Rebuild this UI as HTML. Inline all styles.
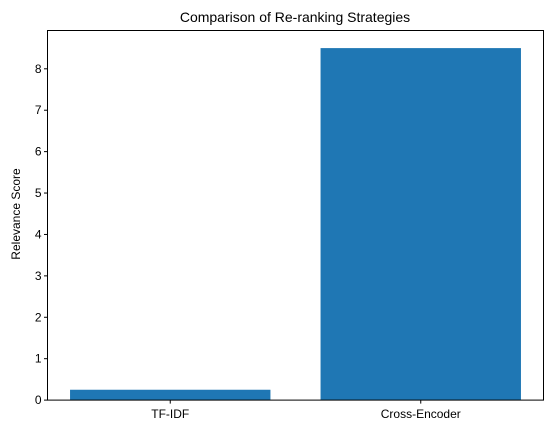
<!DOCTYPE html>
<html><head><meta charset="utf-8"><style>
body{margin:0;background:#fff;}
svg{display:block;font-family:"Liberation Sans","DejaVu Sans",sans-serif;}
</style></head><body>
<svg id="chart" width="554" height="433" viewBox="0 0 554 433">
<text x="295" y="22" text-anchor="middle" font-size="14">Comparison of Re-ranking Strategies</text>
<text transform="translate(20,214) rotate(-90)" text-anchor="middle" font-size="12">Relevance Score</text>
<g id="marks"></g>
<rect x="47.5" y="30.5" width="496" height="369.6" fill="none" stroke="#000" stroke-width="1"/>
</svg>
<script>
const categories=["TF-IDF","Cross-Encoder"];
const values=[0.25,8.5];
const yTicks=[0,1,2,3,4,5,6,7,8];
const L=47.5,R=543.5,T=30.5,B=400.1;
const yMax=Math.max(...values)*1.05;
const xMin=-0.49,xMax=categories.length-1+0.49;
const sx=v=>L+(v-xMin)/(xMax-xMin)*(R-L);
const sy=v=>B-v/yMax*(B-T);
const g=document.getElementById('marks');
const NS="http://www.w3.org/2000/svg";
function mk(t,a){const e=document.createElementNS(NS,t);for(const k in a)e.setAttribute(k,a[k]);g.appendChild(e);return e;}
values.forEach((v,i)=>{
const r=mk('rect',{x:sx(i-0.4),y:sy(v),width:sx(i+0.4)-sx(i-0.4),height:sy(0)-sy(v),fill:'#1f77b4'});


const tk=mk('line',{x1:sx(i),x2:sx(i),y1:B,y2:B+3.5,stroke:'#000'});


const tl=mk('text',{x:sx(i),y:B+18,'text-anchor':'middle','font-size':12});
tl.textContent=categories[i];


});
yTicks.forEach(v=>{
const tk=mk('line',{x1:L-3.5,x2:L,y1:sy(v),y2:sy(v),stroke:'#000'});


const tl=mk('text',{x:L-6,y:sy(v)+4,'text-anchor':'end','font-size':12});
tl.textContent=v;


});
</script>
</body></html>
